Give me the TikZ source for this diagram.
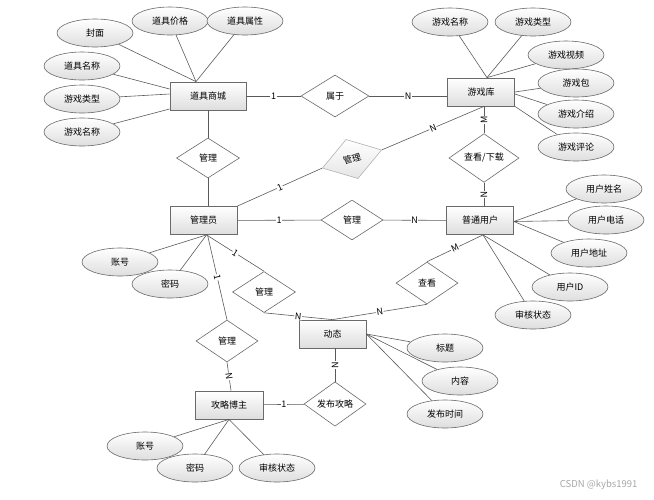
\documentclass[tikz,border=0pt]{standalone}
\usepackage{fontspec}
\setmainfont{Noto Sans CJK SC}
\usetikzlibrary{shapes.geometric}
\definecolor{ln}{HTML}{5A5A5A}
\definecolor{bd}{HTML}{6A6A6A}
\begin{document}
\begin{tikzpicture}[x=1pt,y=-1pt,
  every node/.style={font=\fontsize{9}{10}\selectfont},
  ent/.style={rectangle, draw=bd, line width=0.8pt, top color=white, bottom color=black!13, minimum width=67pt, minimum height=28pt, inner sep=0pt},
  attr/.style={ellipse, draw=bd, line width=0.6pt, top color=white, bottom color=black!13, minimum width=76pt, minimum height=28pt, inner sep=0pt},
  rel/.style={diamond, draw=bd, line width=0.6pt, fill=white, minimum width=62pt, minimum height=41pt, inner sep=0pt},
  lbl/.style={fill=white, inner sep=0.6pt, font=\fontsize{9}{9}\selectfont},
  conn/.style={draw=ln, line width=0.6pt}
]
\useasboundingbox (0,0) rectangle (654,499);

% entities
\node[ent, minimum width=76pt] (shop) at (208,96) {道具商城};
\node[ent] (lib) at (481,92) {游戏库};
\node[ent] (admin) at (203.5,220.5) {管理员};
\node[ent] (user) at (480,220.5) {普通用户};
\node[ent] (dyn) at (332.5,334) {动态};
\node[ent, minimum width=68pt] (blog) at (229,405) {攻略博主};

% relationships
\node[rel, minimum width=68pt, minimum height=42pt] (belong) at (335,96) {属于};
\node[rel, minimum width=63pt, minimum height=40pt] (mgr1) at (208,158) {管理};
\node[rel, draw=black!30, top color=white, bottom color=black!10, rotate=17] (tilt) at (352,159) {管理};
\node[rel, minimum width=70pt, minimum height=40pt] (viewdl) at (484,158) {查看/下载};
\node[rel, minimum height=40pt] (mgr2) at (352,220) {管理};
\node[rel, minimum width=63pt] (mgr3) at (264,292) {管理};
\node[rel, minimum height=42pt] (view) at (427,283) {查看};
\node[rel, minimum height=42pt] (mgr4) at (227,341) {管理};
\node[rel] (pub) at (335,404) {发布攻略};

% attributes of 道具商城
\node[attr] (a1) at (95,33) {封面};
\node[attr] (a2) at (170,21) {道具价格};
\node[attr] (a3) at (245,21) {道具属性};
\node[attr] (a4) at (82,66) {道具名称};
\node[attr] (a5) at (82,99) {游戏类型};
\node[attr] (a6) at (82,132) {游戏名称};
% attributes of 游戏库
\node[attr] (b1) at (450,22) {游戏名称};
\node[attr] (b2) at (533,22) {游戏类型};
\node[attr] (b3) at (566,55) {游戏视频};
\node[attr] (b4) at (576,83) {游戏包};
\node[attr] (b5) at (576,114) {游戏介绍};
\node[attr] (b6) at (576,147) {游戏评论};
% attributes of 普通用户
\node[attr] (u1) at (604,189) {用户姓名};
\node[attr] (u2) at (606,220) {用户电话};
\node[attr] (u3) at (589,253) {用户地址};
\node[attr] (u4) at (570,287) {用户ID};
\node[attr] (u5) at (533,315) {审核状态};
% attributes of 管理员
\node[attr] (m1) at (120,262) {账号};
\node[attr] (m2) at (170,284) {密码};
% attributes of 动态
\node[attr] (d1) at (445,348) {标题};
\node[attr] (d2) at (460,381) {内容};
\node[attr] (d3) at (445,414) {发布时间};
% attributes of 攻略博主
\node[attr] (g1) at (145,446) {账号};
\node[attr] (g2) at (195,468) {密码};
\node[attr] (g3) at (277,468) {审核状态};

% attribute connectors
\draw[conn] (a1) -- ([xshift=-12pt]shop.north);
\draw[conn] (a2) -- ([xshift=-12pt]shop.north);
\draw[conn] (a3) -- ([xshift=-12pt]shop.north);
\draw[conn] (a4) -- ([yshift=7pt]shop.west);
\draw[conn] (a5) -- ([yshift=2pt]shop.west);
\draw[conn] (a6) -- ([yshift=-13pt]shop.west);

\draw[conn] (b1) -- ([xshift=6pt]lib.north);
\draw[conn] (b2) -- ([xshift=6pt]lib.north);
\draw[conn] (b3) -- ([xshift=6pt]lib.north);
\draw[conn] (b4) -- (lib.east);
\draw[conn] (b5) -- ([yshift=-2pt]lib.east);
\draw[conn] (b6) -- (lib.south east);

\draw[conn] (u1) -- ([yshift=-1pt]user.east);
\draw[conn] (u2) -- ([yshift=-1pt]user.east);
\draw[conn] (u3) -- ([yshift=-1pt]user.east);
\draw[conn] (u4) -- ([xshift=3pt]user.south);
\draw[conn] (u5) -- ([xshift=3pt]user.south);

\draw[conn] (m1) -- ([xshift=3pt]admin.south);
\draw[conn] (m2) -- ([xshift=3pt]admin.south);

\draw[conn] (d1) -- (dyn.east);
\draw[conn] (d2) -- (dyn.east);
\draw[conn] (d3) -- (dyn.east);

\draw[conn] (g1) -- (blog.south);
\draw[conn] (g2) -- (blog.south);
\draw[conn] (g3) -- (blog.south);

% relationship connectors
\draw[conn] (shop) -- node[lbl]{1} (belong);
\draw[conn] (belong) -- node[lbl]{N} (belong -| lib.west);
\draw[conn] (shop) -- (mgr1);
\draw[conn] (mgr1) -- (mgr1 |- admin.north);
\draw[conn] (admin.north east) -- node[lbl, sloped]{1} (tilt.west);
\draw[conn] (tilt.east) -- node[lbl, sloped]{N} ([xshift=3pt]lib.south);
\draw[conn] (viewdl.north) -- node[lbl, sloped]{M} (viewdl.north |- lib.south);
\draw[conn] (viewdl.south) -- node[lbl, sloped]{N} (viewdl.south |- user.north);
\draw[conn] (admin) -- node[lbl]{1} (mgr2);
\draw[conn] (mgr2) -- node[lbl]{N} (user);
\draw[conn] ([xshift=3pt]admin.south) -- node[lbl, sloped]{1} (mgr3.north);
\draw[conn] (mgr3.south) -- node[lbl, sloped]{N} (dyn.north);
\draw[conn] ([xshift=3pt]user.south) -- node[lbl, sloped]{M} (view.north);
\draw[conn] (view.south) -- node[lbl, sloped]{N} (dyn.north);
\draw[conn] ([xshift=4pt]admin.south) -- node[lbl, sloped]{1} (mgr4.north);
\draw[conn] (mgr4.south) -- node[lbl, sloped]{N} ([xshift=2pt]blog.north);
\draw[conn] (blog) -- node[lbl]{1} (pub);
\draw[conn] (pub.north) -- node[lbl, sloped]{N} (pub.north |- dyn.south);

% watermark
\node[text=black!35, anchor=east, font=\fontsize{9.5}{10}\selectfont] (wm) at (641,485) {CSDN @kybs1991};
\end{tikzpicture}
\end{document}
